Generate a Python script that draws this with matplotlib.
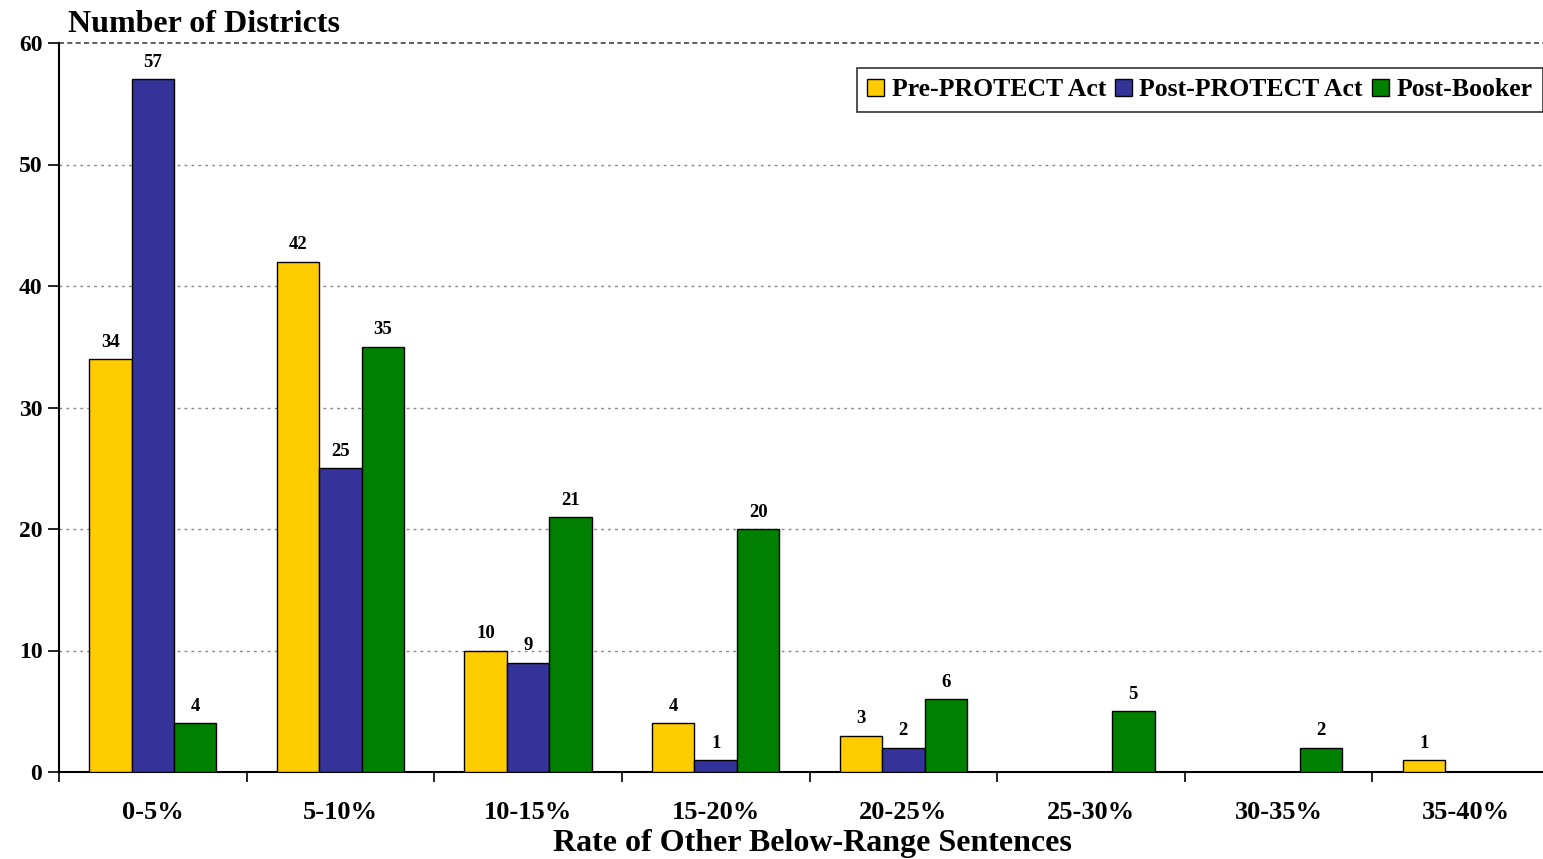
import matplotlib
matplotlib.use("Agg")
import matplotlib.pyplot as plt
from matplotlib.ticker import FixedLocator
import numpy as np

categories = ["0-5%", "5-10%", "10-15%", "15-20%", "20-25%", "25-30%", "30-35%", "35-40%"]
series_names = ["Pre-PROTECT Act", "Post-PROTECT Act", "Post-Booker"]
pre_protect = [34, 42, 10, 4, 3, 0, 0, 1]
post_protect = [57, 25, 9, 1, 2, 0, 0, 0]
post_booker = [4, 35, 21, 20, 6, 5, 2, 0]
colors = ["#FFCC00", "#333399", "#008000"]

plt.rcParams['font.family'] = ['Liberation Serif', 'DejaVu Serif']
plt.rcParams['font.weight'] = 'bold'

fig = plt.figure(figsize=(15.43, 8.59), dpi=100)
ax = fig.add_axes([59/1543, 1-772/859, 1-59/1543, (772-43)/859])

x = np.arange(len(categories))
w = 0.226
all_series = [pre_protect, post_protect, post_booker]
for i, (vals, c, name) in enumerate(zip(all_series, colors, series_names)):
    pos = x + (i - 1) * w
    ax.bar(pos, vals, width=w, color=c, edgecolor='black', linewidth=1.0, label=name, zorder=3)
    for p, v in zip(pos, vals):
        if v > 0:
            ax.annotate(str(v), (p, v), xytext=(0, 6), textcoords='offset points',
                        ha='center', va='bottom', fontsize=13.5, fontweight='bold')

ax.set_ylim(0, 60)
ax.set_xlim(-0.5, 7.5 - 17/187.6)
ax.set_yticks(range(0, 61, 10))
ax.set_yticklabels([str(v) for v in range(0, 61, 10)], fontsize=17, fontweight='bold')
ax.set_xticks(x)
ax.set_xticklabels(categories, fontsize=19, fontweight='bold')
ax.xaxis.set_minor_locator(FixedLocator(np.arange(-0.5, 8, 1.0)))
ax.tick_params(axis='x', which='major', length=0, pad=21)
ax.tick_params(axis='x', which='minor', length=7, width=1.2, direction='out')
ax.tick_params(axis='y', which='major', length=8, width=1.2, direction='out', pad=4)

for s in ['top', 'right']:
    ax.spines[s].set_visible(False)
for s in ['left', 'bottom']:
    ax.spines[s].set_linewidth(1.5)
    ax.spines[s].set_color('black')

for yv in range(10, 60, 10):
    ax.axhline(yv, color='#888888', linestyle=(0, (2, 3)), linewidth=1, zorder=1)
ax.axhline(60, color='#444444', linestyle=(0, (3, 2)), linewidth=1.2, zorder=1, clip_on=False)

leg = ax.legend(loc='upper left', bbox_to_anchor=(857/1543, 1-68/859), bbox_transform=fig.transFigure,
                ncol=3, frameon=True, fancybox=False, edgecolor='black', fontsize=18.5,
                handlelength=0.65, handleheight=0.65, handletextpad=0.3, columnspacing=0.35,
                borderpad=0.4, borderaxespad=0)
leg.get_frame().set_linewidth(1.2)
for t in leg.get_texts():
    t.set_fontweight('bold')

fig.text(68/1543, 1-24/859, "Number of Districts", fontsize=23, fontweight='bold', ha='left', va='center')
fig.text(812/1543, 1-843/859, "Rate of Other Below-Range Sentences", fontsize=23, fontweight='bold',
         ha='center', va='center')

fig.savefig("out.png", dpi=100)
